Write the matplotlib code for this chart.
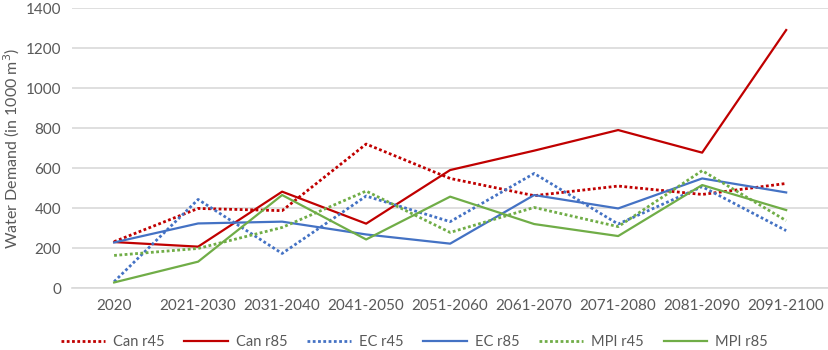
import matplotlib

matplotlib.use("Agg")
matplotlib.rcParams["font.family"] = ["Lato", "DejaVu Sans"]
import matplotlib.pyplot as plt

periods = ["2020", "2021-2030", "2031-2040", "2041-2050", "2051-2060",
           "2061-2070", "2071-2080", "2081-2090", "2091-2100"]

can_r45 = [232, 398, 387, 720, 548, 462, 510, 468, 523]
can_r85 = [230, 207, 482, 322, 590, 687, 790, 677, 1290]
ec_r45 = [32, 443, 173, 460, 332, 573, 320, 507, 287]
ec_r85 = [228, 323, 332, 268, 222, 465, 398, 548, 478]
mpi_r45 = [163, 198, 303, 485, 278, 403, 307, 587, 337]
mpi_r85 = [28, 132, 465, 243, 457, 320, 260, 515, 390]

RED = "#C00000"
BLUE = "#4472C4"
GREEN = "#70AD47"
TEXT = "#595959"
DOTS = (0, (1, 0.9))

series = [
    ("Can r45", can_r45, RED, DOTS),
    ("Can r85", can_r85, RED, "-"),
    ("EC r45", ec_r45, BLUE, DOTS),
    ("EC r85", ec_r85, BLUE, "-"),
    ("MPI r45", mpi_r45, GREEN, DOTS),
    ("MPI r85", mpi_r85, GREEN, "-"),
]

fig = plt.figure(figsize=(8.29, 3.5), dpi=100)
ax = fig.add_axes([0.087, 0.177, 0.912, 0.8])

x = range(len(periods))
for label, vals, color, ls in series:
    ax.plot(x, vals, color=color, linestyle=ls,
            linewidth=1.6 if ls == "-" else 2.0, label=label)

ax.set_xlim(-0.5, len(periods) - 0.5)
ax.set_ylim(0, 1400)
ax.set_yticks(range(0, 1401, 200))
ax.set_xticks(list(x))
ax.set_xticklabels(periods)
ax.grid(axis="y", color="#D9D9D9", linewidth=1.2)
ax.set_axisbelow(True)
for side in ("top", "right", "left"):
    ax.spines[side].set_visible(False)
ax.spines["bottom"].set_color("#D9D9D9")
ax.spines["bottom"].set_linewidth(1.2)
ax.tick_params(length=0, labelsize=11, colors=TEXT, pad=8)
ax.set_ylabel("Water Demand (in 1000 m$^3$)", fontsize=11.5, color=TEXT)
ax.yaxis.set_label_coords(-0.066, 0.5)

fig.legend(loc="center", bbox_to_anchor=(0.5, 0.023), ncol=6,
           frameon=False, fontsize=10.5, labelcolor=TEXT,
           handlelength=3.0, columnspacing=1.35, handletextpad=0.55)

fig.savefig("out.png", dpi=100)
